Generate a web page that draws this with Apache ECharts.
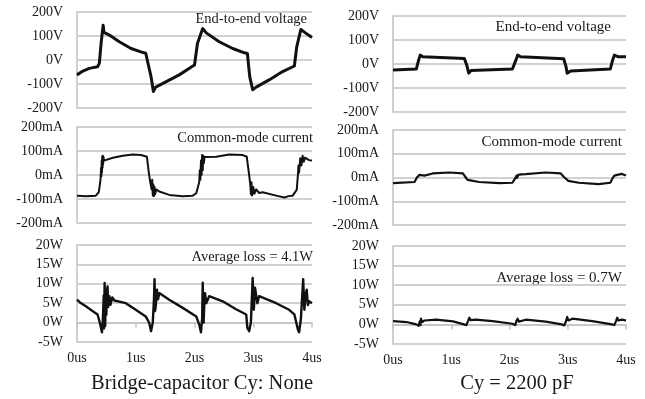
<!DOCTYPE html>
<html>
<head>
<meta charset="utf-8">
<script src="https://cdn.jsdelivr.net/npm/echarts@6/dist/echarts.min.js"></script>
<style>
html,body{margin:0;padding:0;background:#fff;}
#chart{width:645px;height:399px;}
</style>
</head>
<body>
<div id="chart"></div>
<script>
// ---- data (time in us) ----
const timeTicks = [0, 1, 2, 3, 4];

const voltNone = [[0,-62],[0.1,-46],[0.21,-35],[0.35,-28],[0.38,-14],[0.41,69],[0.445,145],[0.46,115],[0.48,113],[0.55,104],[0.72,76],[0.92,48],[1.1,33],[1.17,28],[1.2,22],[1.26,-69],[1.3,-131],[1.34,-113],[1.52,-90],[1.74,-62],[1.94,-30],[2.0,-21],[2.05,69],[2.14,131],[2.2,113],[2.42,76],[2.65,48],[2.85,30],[2.9,27],[2.94,-69],[2.99,-124],[3.05,-113],[3.27,-83],[3.5,-48],[3.7,-25],[3.74,55],[3.81,127],[3.9,111],[4.0,94]];

const curNone = [[0,-86],[0.15,-89],[0.32,-86],[0.37,-72],[0.40,-20],[0.41,30],[0.415,-5],[0.42,60],[0.425,10],[0.43,78],[0.435,30],[0.44,80],[0.445,45],[0.45,75],[0.46,60],[0.49,62],[0.61,72],[0.78,80],[0.95,85],[1.09,83],[1.19,76],[1.22,14],[1.25,-35],[1.27,-60],[1.28,-20],[1.29,-85],[1.30,-40],[1.31,-88],[1.32,-50],[1.33,-80],[1.35,-60],[1.40,-69],[1.57,-83],[1.8,-89],[1.97,-86],[2.03,-76],[2.08,-30],[2.09,20],[2.10,-20],[2.11,60],[2.12,0],[2.13,83],[2.14,20],[2.15,80],[2.16,50],[2.17,75],[2.2,69],[2.37,76],[2.59,85],[2.82,83],[2.89,76],[2.93,0],[2.95,-40],[2.96,-80],[2.97,-30],[2.98,-85],[3.0,-50],[3.02,-78],[3.05,-60],[3.1,-75],[3.16,-72],[3.39,-86],[3.53,-94],[3.6,-88],[3.67,-86],[3.74,-62],[3.76,0],[3.77,40],[3.78,10],[3.8,70],[3.82,40],[3.84,80],[3.86,55],[3.88,72],[3.9,65],[3.95,62],[4.0,60]];

const lossNone = [[0,5.9],[0.05,5.2],[0.15,4.2],[0.27,2.9],[0.35,2.1],[0.39,-0.1],[0.425,-2.5],[0.44,0.8],[0.455,7],[0.46,-1.5],[0.47,10.2],[0.48,-0.9],[0.49,8],[0.5,2],[0.505,7.6],[0.52,9.3],[0.53,4],[0.55,6.8],[0.57,4.6],[0.6,6.5],[0.635,5.7],[0.83,5.0],[1.0,3.3],[1.17,1.6],[1.23,-0.1],[1.26,-2.2],[1.29,0],[1.31,6],[1.32,11.2],[1.33,3],[1.34,4.2],[1.36,8.5],[1.38,6],[1.4,7.6],[1.57,5.9],[1.8,3.8],[2.03,1.6],[2.08,-0.5],[2.11,-2.5],[2.13,1],[2.14,10.3],[2.155,0],[2.17,6],[2.18,7.6],[2.2,5],[2.25,6.8],[2.48,5.5],[2.7,3.5],[2.88,2.1],[2.9,-1.4],[2.93,-2.2],[2.96,0],[2.99,11.5],[3.01,3.3],[3.03,9],[3.05,8.5],[3.07,5],[3.1,6.8],[3.39,5.0],[3.61,3.3],[3.7,2.1],[3.76,-1.8],[3.78,-2.5],[3.81,0.8],[3.83,6],[3.85,11.2],[3.87,3.3],[3.89,7],[3.91,8.5],[3.93,4.5],[3.95,5.5],[4.0,5.0]];

const voltCy = [[0,-25],[0.4,-21],[0.44,16],[0.467,37],[0.51,30],[1.225,23],[1.265,-4],[1.3,-38],[1.34,-27],[2.05,-21],[2.11,16],[2.14,37],[2.19,30],[2.93,22],[2.97,-11],[2.99,-38],[3.05,-29],[3.73,-21],[3.77,16],[3.8,37],[3.87,30],[4.0,30]];

const curCy = [[0,-24],[0.37,-19],[0.41,0],[0.43,8],[0.44,0],[0.456,11],[0.47,4],[0.49,12],[0.54,8],[0.68,17],[0.97,21],[1.2,17],[1.25,0],[1.28,-10],[1.31,-14],[1.48,-19],[1.82,-24],[2.05,-22],[2.1,-3],[2.12,8],[2.13,-2],[2.15,11],[2.17,5],[2.2,13],[2.28,14],[2.62,21],[2.88,17],[2.93,3],[3.01,-14],[3.19,-22],[3.53,-28],[3.73,-22],[3.77,-3],[3.8,8],[3.82,2],[3.85,11],[3.93,15],[4.0,8]];

const lossCy = [[0,0.85],[0.23,0.6],[0.4,0],[0.44,-0.35],[0.46,0.8],[0.47,-0.2],[0.48,1.45],[0.5,0.6],[0.54,1.0],[0.74,1.2],[1.03,0.77],[1.22,0],[1.26,-0.2],[1.29,0.9],[1.31,1.7],[1.33,1.1],[1.42,1.2],[1.71,0.85],[2.05,0.17],[2.1,-0.17],[2.12,0.9],[2.14,1.45],[2.16,0.7],[2.28,1.2],[2.62,0.7],[2.9,0],[2.94,-0.25],[2.97,0.8],[2.99,1.9],[3.01,1.0],[3.08,1.45],[3.42,0.85],[3.76,0],[3.8,-0.17],[3.83,0.9],[3.85,1.7],[3.87,1.0],[3.93,1.2],[4.0,1.0]];

const voltRange = [-200, 200, 100];
const curRange = [-200, 200, 100];
const lossRange = [-5, 20, 5];

const annotations = ['End-to-end voltage', 'Common-mode current', 'Average loss = 4.1W', 'Average loss = 0.7W'];
const captions = ['Bridge-capacitor Cy: None', 'Cy = 2200 pF'];

// ---- layout / styling ----
const FONT = '"Liberation Serif", "Times New Roman", serif';
const GRID_COLOR = '#c2c2c2';

const grids = [
  {left: 77, top: 12, width: 235, height: 96},
  {left: 77, top: 127, width: 235, height: 96},
  {left: 77, top: 245, width: 235, height: 97},
  {left: 393, top: 16, width: 233, height: 96},
  {left: 393, top: 130, width: 233, height: 95},
  {left: 393, top: 246, width: 233, height: 98}
];

const seriesData = [voltNone, curNone, lossNone, voltCy, curCy, lossCy];
const ranges = [voltRange, curRange, lossRange, voltRange, curRange, lossRange];
const units = ['V', 'mA', 'W', 'V', 'mA', 'W'];
const isBottom = [false, false, true, false, false, true];
const lineWidths = [3, 2, 2.4, 3, 2.2, 2.2];

const xAxes = grids.map((g, i) => ({
  type: 'value', gridIndex: i, min: timeTicks[0], max: timeTicks[timeTicks.length - 1], interval: 1,
  axisLine: {show: isBottom[i], lineStyle: {color: GRID_COLOR, width: 1.5}},
  axisTick: {show: isBottom[i], length: 5, lineStyle: {color: GRID_COLOR, width: 1.5}},
  axisLabel: {show: isBottom[i], formatter: '{value}us', fontFamily: FONT, fontSize: 14, color: '#1a1a1a', margin: 9},
  splitLine: {show: false}
}));

const yAxes = grids.map((g, i) => ({
  type: 'value', gridIndex: i, min: ranges[i][0], max: ranges[i][1], interval: ranges[i][2],
  axisLine: {show: true, lineStyle: {color: GRID_COLOR, width: 1.5}},
  axisTick: {show: false},
  axisLabel: {formatter: '{value}' + units[i], fontFamily: FONT, fontSize: 14, color: '#1a1a1a', margin: 14},
  splitLine: {show: true, lineStyle: {color: GRID_COLOR, width: 1.5}}
}));

const series = seriesData.map((d, i) => ({
  type: 'line', xAxisIndex: i, yAxisIndex: i, data: d,
  showSymbol: false, symbol: 'none', clip: true,
  lineStyle: {color: '#111', width: lineWidths[i], join: 'round'},
  silent: true
}));

function txt(x, y, text, size, align) {
  return {type: 'text', x: x, y: y, style: {text: text, font: size + 'px ' + FONT, fill: '#1a1a1a', textAlign: align, textVerticalAlign: 'middle'}};
}

const graphic = [
  txt(307, 19, annotations[0], 14.5, 'right'),
  txt(313, 138, annotations[1], 14.5, 'right'),
  txt(313, 257, annotations[2], 14.5, 'right'),
  txt(611, 27, annotations[0], 15, 'right'),
  txt(622, 142, annotations[1], 15, 'right'),
  txt(622, 278, annotations[3], 15, 'right'),
  txt(202, 384, captions[0], 20.5, 'center'),
  txt(517, 384, captions[1], 20.5, 'center')
];

const chart = echarts.init(document.getElementById('chart'), null, {renderer: 'canvas'});
chart.setOption({
  animation: false,
  backgroundColor: '#fff',
  grid: grids,
  xAxis: xAxes,
  yAxis: yAxes,
  series: series,
  graphic: graphic
});
</script>
</body>
</html>
